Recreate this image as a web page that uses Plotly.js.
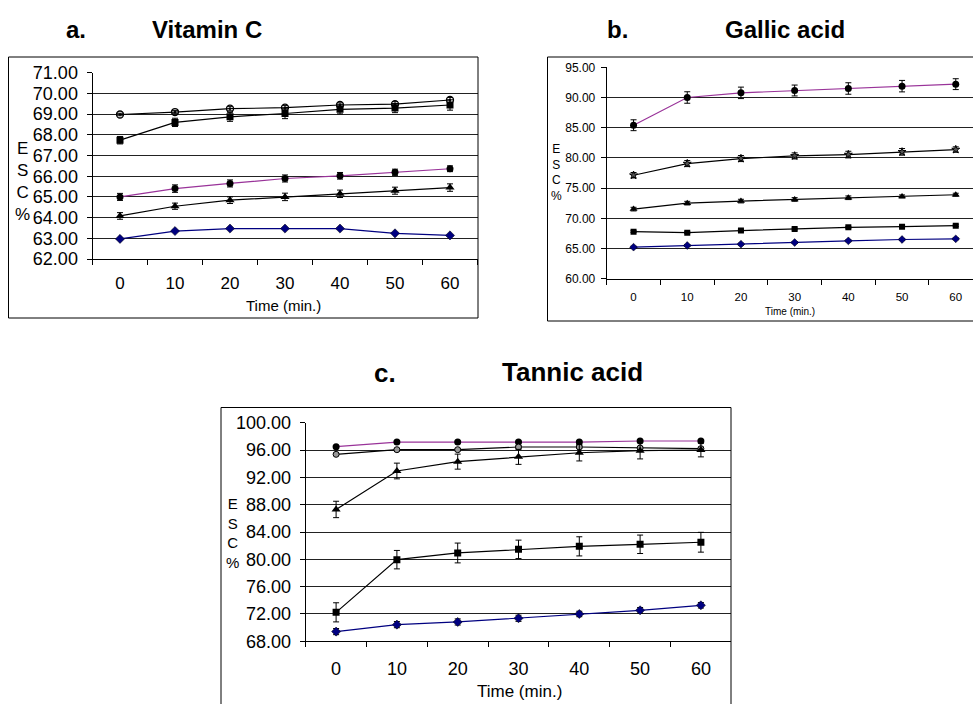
<!DOCTYPE html>
<html><head><meta charset="utf-8">
<script src="https://cdn.plot.ly/plotly-3.0.1.min.js"></script>
<style>html,body{margin:0;padding:0;overflow:hidden;background:#fff}#chart{width:1000px;height:720px}</style>
</head><body><div id="chart"></div>
<script>
// ---- data ----
const times = ['0','10','20','30','40','50','60'];
const panelTitles = ['Vitamin C','Gallic acid','Tannic acid'];
const panelLetters = ['a.','b.','c.'];
const yTitle = 'E<br>S<br>C<br>%';
const xTitle = 'Time (min.)';

// a. Vitamin C
const vc_open = [68.98, 69.10, 69.26, 69.31, 69.44, 69.48, 69.68];
const vc_open_err = [0.06, 0.08, 0.10, 0.10, 0.10, 0.12, 0.12];
const vc_square = [67.74, 68.60, 68.87, 69.03, 69.23, 69.29, 69.44];
const vc_square_err = [0.18, 0.20, 0.22, 0.25, 0.22, 0.22, 0.25];
const vc_purple = [65.00, 65.40, 65.65, 65.89, 66.02, 66.19, 66.36];
const vc_purple_err = [0.17, 0.18, 0.17, 0.17, 0.16, 0.15, 0.14];
const vc_tri = [64.08, 64.55, 64.84, 65.00, 65.15, 65.30, 65.45];
const vc_tri_err = [0.16, 0.15, 0.16, 0.18, 0.18, 0.17, 0.18];
const vc_blue = [62.97, 63.35, 63.47, 63.47, 63.47, 63.24, 63.14];
const vc_blue_err = [0.03, 0.03, 0.03, 0.03, 0.03, 0.04, 0.04];

// b. Gallic acid
const ga_purple = [85.41, 90.00, 90.77, 91.16, 91.49, 91.88, 92.21];
const ga_purple_err = [0.90, 0.95, 0.95, 0.90, 0.95, 0.95, 0.90];
const ga_star = [77.13, 79.06, 79.89, 80.33, 80.55, 81.00, 81.38];
const ga_star_err = [0.45, 0.50, 0.50, 0.50, 0.55, 0.55, 0.45];
const ga_tri = [71.52, 72.51, 72.85, 73.12, 73.40, 73.62, 73.90];
const ga_tri_err = [0.30, 0.30, 0.30, 0.30, 0.30, 0.25, 0.25];
const ga_square = [67.79, 67.62, 67.96, 68.23, 68.51, 68.62, 68.78];
const ga_square_err = [0.15, 0.15, 0.15, 0.15, 0.15, 0.15, 0.15];
const ga_blue = [65.22, 65.50, 65.72, 65.99, 66.27, 66.49, 66.60];
const ga_blue_err = [0.15, 0.15, 0.15, 0.15, 0.15, 0.15, 0.15];

// c. Tannic acid
const ta_purple = [96.49, 97.17, 97.17, 97.17, 97.17, 97.32, 97.32];
const ta_purple_err = [0.10, 0.10, 0.10, 0.10, 0.10, 0.10, 0.10];
const ta_open = [95.37, 96.05, 96.05, 96.44, 96.44, 96.30, 96.20];
const ta_open_err = [0.15, 0.15, 0.15, 0.20, 0.20, 0.20, 0.20];
const ta_tri = [87.30, 92.93, 94.30, 95.00, 95.60, 95.90, 96.00];
const ta_tri_err = [1.20, 1.15, 1.10, 1.10, 1.20, 1.20, 1.00];
const ta_square = [72.24, 79.95, 80.93, 81.46, 81.90, 82.20, 82.50];
const ta_square_err = [1.40, 1.35, 1.45, 1.35, 1.40, 1.35, 1.45];
const ta_blue = [69.42, 70.44, 70.83, 71.37, 72.00, 72.54, 73.27];
const ta_blue_err = [0.45, 0.45, 0.45, 0.45, 0.40, 0.40, 0.40];

// ---- styles ----
const W = 1000, H = 720;
const FONT = 'Liberation Sans, Arial, sans-serif';
const BLACK = '#000000', PURPLE = '#993399', NAVY = '#000080';
const px = v => v / W, py = v => 1 - v / H;

function tr(ax, y, err, lineColor, marker, capw) {
  return {
    type: 'scatter', mode: 'lines+markers', x: times, y: y,
    xaxis: 'x' + ax, yaxis: 'y' + ax,
    line: {color: lineColor, width: 1.2},
    marker: marker,
    error_y: {type: 'data', array: err, visible: true, color: BLACK, thickness: 1, width: capw},
    showlegend: false, hoverinfo: 'skip'
  };
}
const mFilledCircle = s => ({symbol: 'circle', size: s, color: BLACK});
const mSquare = s => ({symbol: 'square', size: s, color: BLACK});
const mTri = s => ({symbol: 'triangle-up', size: s, color: BLACK});
const mDiamond = s => ({symbol: 'diamond', size: s, color: NAVY, line: {color: BLACK, width: 0.5}});
const mOpen = s => ({symbol: 'circle-open-dot', size: s, color: BLACK, line: {width: 1.3}});
const mStar = s => ({symbol: 'star', size: s, color: '#555', line: {color: BLACK, width: 1}});
const mGrayCircle = s => ({symbol: 'circle', size: s, color: '#999', line: {color: BLACK, width: 1}});

const data = [
  tr('', vc_open, vc_open_err, BLACK, mOpen(7), 3),
  tr('', vc_square, vc_square_err, BLACK, mSquare(7), 3),
  tr('', vc_purple, vc_purple_err, PURPLE, mFilledCircle(7), 3),
  tr('', vc_tri, vc_tri_err, BLACK, mTri(8), 3),
  tr('', vc_blue, vc_blue_err, NAVY, mDiamond(7), 3),

  tr('2', ga_purple, ga_purple_err, PURPLE, mFilledCircle(7), 3),
  tr('2', ga_star, ga_star_err, BLACK, mStar(6), 3),
  tr('2', ga_tri, ga_tri_err, BLACK, mTri(7), 3),
  tr('2', ga_square, ga_square_err, BLACK, mSquare(6), 3),
  tr('2', ga_blue, ga_blue_err, NAVY, mDiamond(6), 3),

  tr('3', ta_purple, ta_purple_err, PURPLE, mFilledCircle(7), 3),
  tr('3', ta_open, ta_open_err, BLACK, mGrayCircle(6), 3),
  tr('3', ta_tri, ta_tri_err, BLACK, mTri(8), 3),
  tr('3', ta_square, ta_square_err, BLACK, mSquare(7), 3),
  tr('3', ta_blue, ta_blue_err, NAVY, mDiamond(7), 3)
];

function xax(dom, anchor, fs, standoff) {
  return {domain: dom, anchor: anchor, type: 'category', range: [-0.5, 6.5],
    tickson: 'boundaries', ticks: 'outside', ticklen: 5, tickcolor: BLACK, tickwidth: 1,
    showline: true, linecolor: BLACK, linewidth: 1, showgrid: false, zeroline: false,
    ticklabelstandoff: standoff,
    tickfont: {family: FONT, size: fs, color: BLACK}, fixedrange: true};
}
function yax(dom, anchor, r, dt, fs, standoff) {
  return {domain: dom, anchor: anchor, range: r, tick0: r[0], dtick: dt, tickformat: '.2f',
    ticks: 'outside', ticklen: 5, tickcolor: BLACK, tickwidth: 1,
    showline: true, linecolor: BLACK, linewidth: 1,
    showgrid: true, gridcolor: '#222', gridwidth: 1, zeroline: false,
    ticklabelstandoff: standoff,
    tickfont: {family: FONT, size: fs, color: BLACK}, fixedrange: true};
}

const layout = {
  width: W, height: H, margin: {l: 0, r: 0, t: 0, b: 0},
  paper_bgcolor: '#fff', plot_bgcolor: 'rgba(0,0,0,0)', showlegend: false,
  font: {family: FONT, color: BLACK},
  xaxis: xax([px(92.5), px(477.5)], 'y', 17, 9),
  yaxis: yax([py(259), py(72.7)], 'x', [62, 71], 1, 18, 5),
  xaxis2: xax([px(606.7), px(982.6)], 'y2', 11.5, 7),
  yaxis2: yax([py(278.7), py(67.3)], 'x2', [60, 95], 5, 12, 3),
  xaxis3: xax([px(305.7), px(731.3)], 'y3', 18, 11),
  yaxis3: yax([py(641.3), py(422.7)], 'x3', [68, 100], 4, 18, 5),
  shapes: [
    {type: 'rect', xref: 'paper', yref: 'paper', x0: px(8.5), x1: px(478), y0: py(318), y1: py(57), line: {color: BLACK, width: 1}},
    {type: 'rect', xref: 'paper', yref: 'paper', x0: px(547.5), x1: px(1010), y0: py(321), y1: py(57), line: {color: BLACK, width: 1}},
    {type: 'rect', xref: 'paper', yref: 'paper', x0: px(221), x1: px(731), y0: py(730), y1: py(407.5), line: {color: BLACK, width: 1}}
  ],
  annotations: [
    {text: panelLetters[0], x: px(76), y: py(30), font: {size: 24, family: FONT, weight: 'bold'}},
    {text: panelTitles[0], x: px(207), y: py(30), font: {size: 24, family: FONT, weight: 'bold'}},
    {text: panelLetters[1], x: px(617), y: py(30), font: {size: 24, family: FONT, weight: 'bold'}},
    {text: panelTitles[1], x: px(785), y: py(30), font: {size: 24, family: FONT, weight: 'bold'}},
    {text: panelLetters[2], x: px(385), y: py(373), font: {size: 26, family: FONT, weight: 'bold'}},
    {text: panelTitles[2], x: px(572.5), y: py(372), font: {size: 26, family: FONT, weight: 'bold'}},
    {text: yTitle, x: px(22), y: py(181), font: {size: 17, family: FONT}},
    {text: yTitle, x: px(556.5), y: py(172.5), font: {size: 12, family: FONT}},
    {text: yTitle, x: px(232), y: py(533), font: {size: 15, family: FONT}},
    {text: xTitle, x: px(283), y: py(305), font: {size: 15, family: FONT}},
    {text: xTitle, x: px(790), y: py(311), font: {size: 10, family: FONT}},
    {text: xTitle, x: px(519), y: py(691), font: {size: 17, family: FONT}}
  ].map(a => Object.assign({xref: 'paper', yref: 'paper', showarrow: false, xanchor: 'center', yanchor: 'middle'}, a))
};

Plotly.newPlot('chart', data, layout, {staticPlot: true, displayModeBar: false});
</script>
</body></html>
